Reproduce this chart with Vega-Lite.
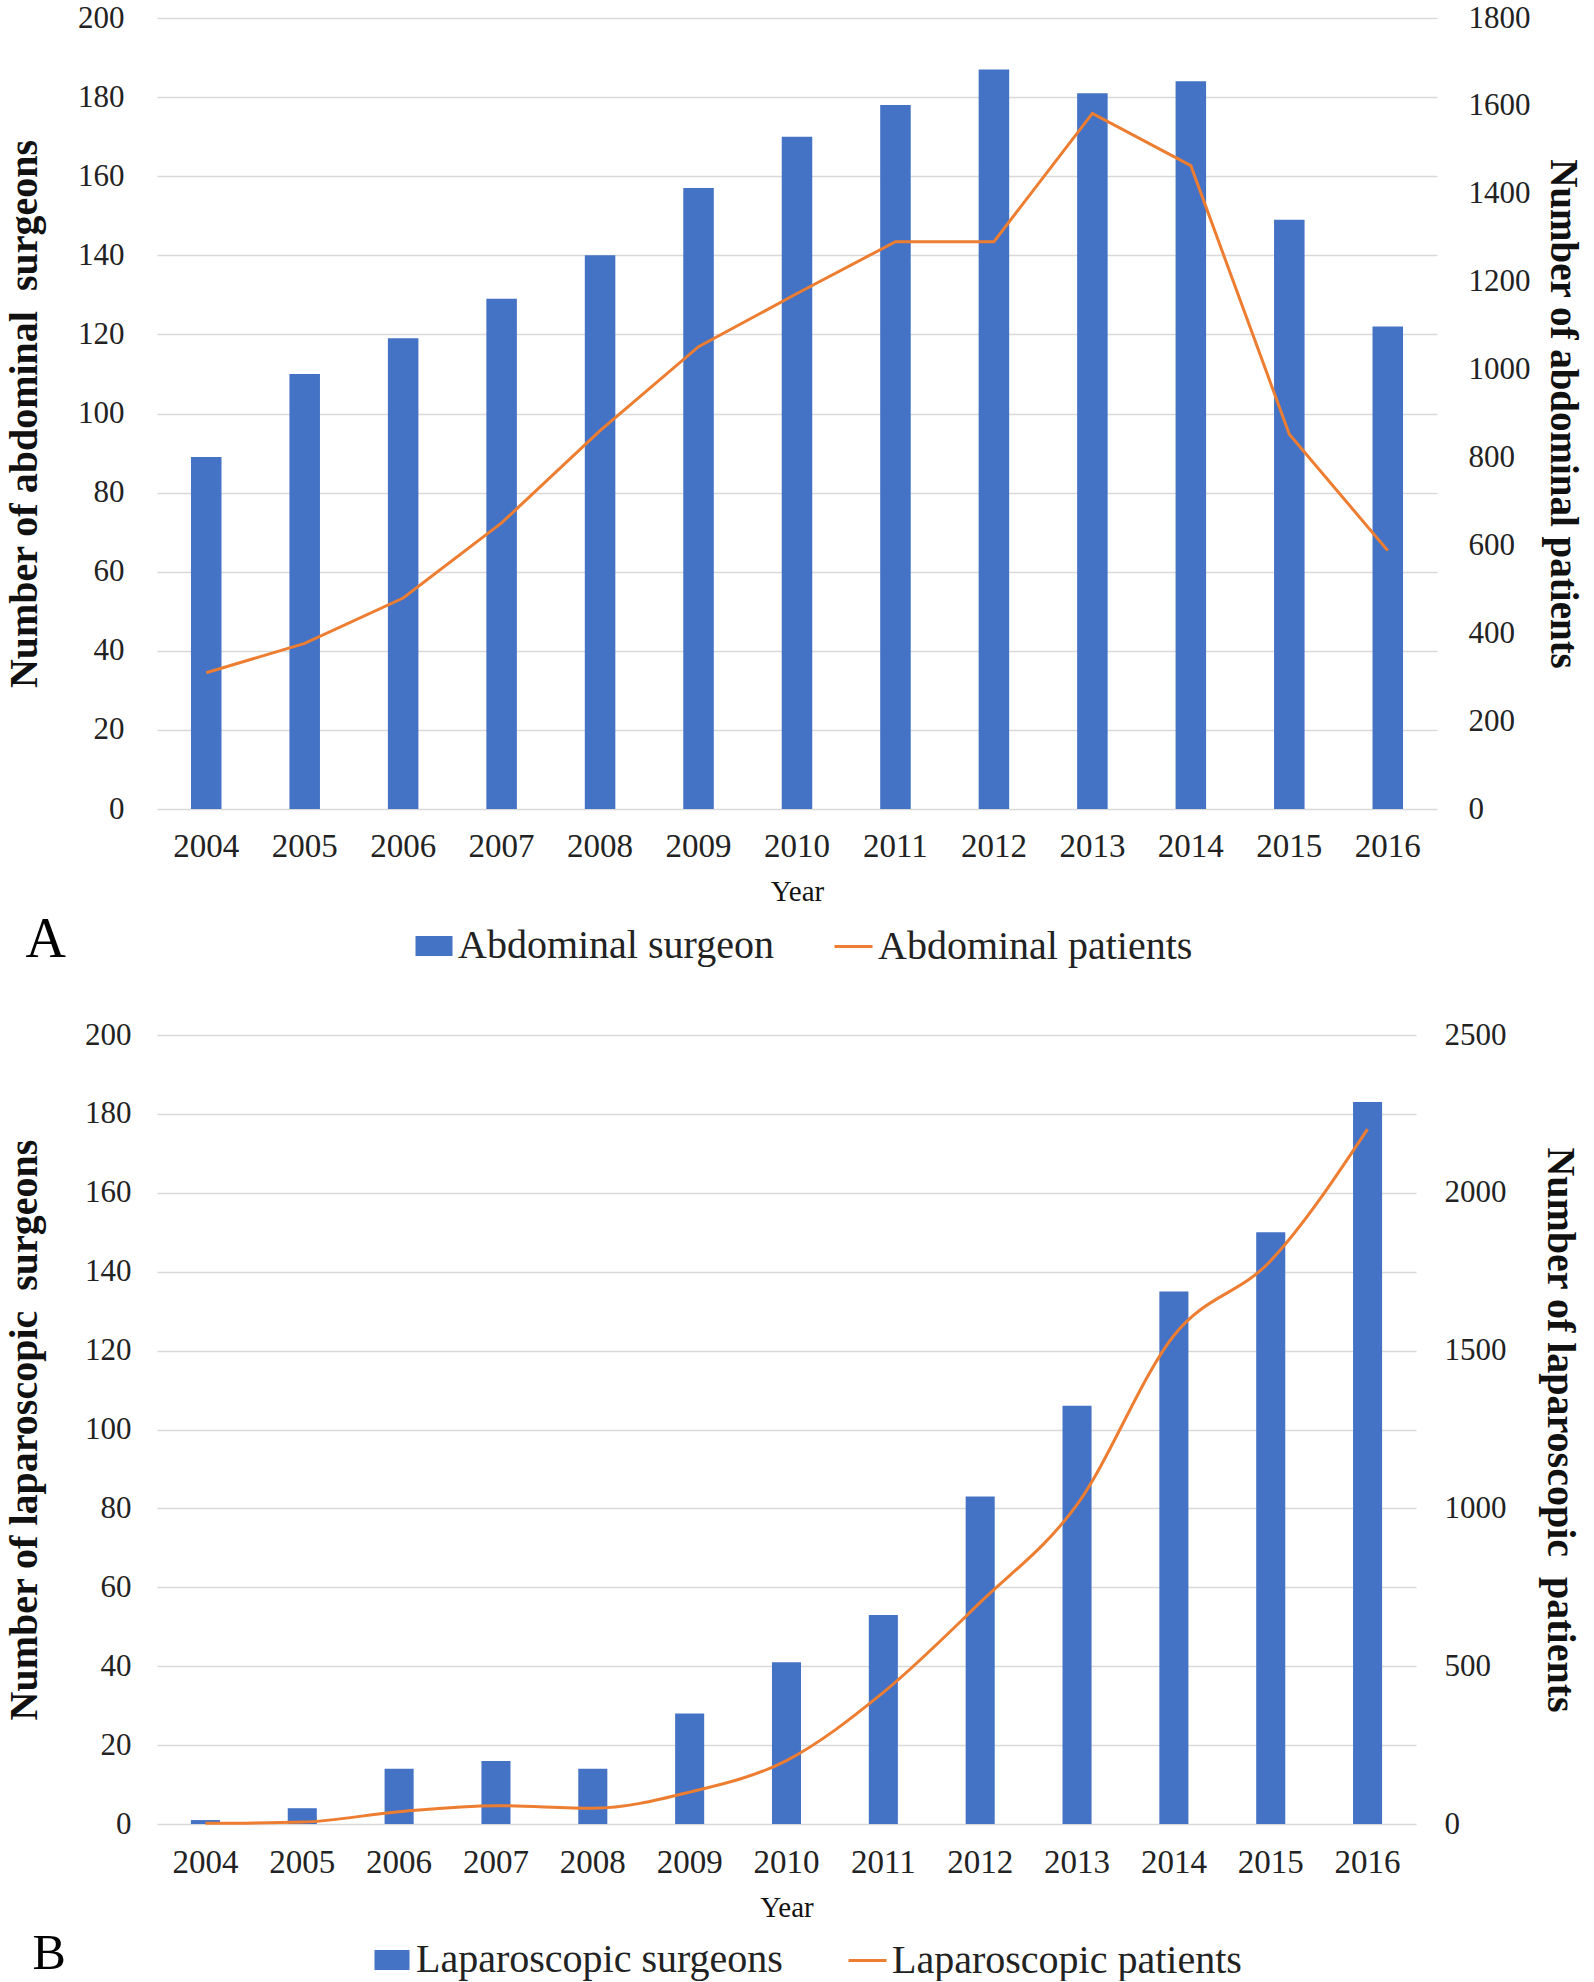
{
  "$schema": "https://vega.github.io/schema/vega-lite/v6.json",
  "padding": {"left": 4, "top": 2, "right": 10, "bottom": 0},
  "background": "white",
  "columns": 1,
  "align": "none",
  "spacing": 51,
  "config": {
    "font": "Liberation Serif",
    "view": {"stroke": null},
    "axis": {"labelFont": "Liberation Serif", "titleFont": "Liberation Serif", "labelColor": "#222222", "titleColor": "#111111", "ticks": false, "domain": false, "gridColor": "#D9D9D9", "gridWidth": 1.6},
    "legend": {"labelFont": "Liberation Serif", "labelColor": "#222222", "labelLimit": 1000, "title": null}
  },
  "resolve": {"scale": {"color": "independent", "stroke": "independent"}, "legend": {"color": "independent", "stroke": "independent"}},
  "concat": [
    {
      "width": 1280,
      "height": 791,
      "data": {"values": [
        {"year": "2004", "surgeons": 89, "patients": 310},
        {"year": "2005", "surgeons": 110, "patients": 377},
        {"year": "2006", "surgeons": 119, "patients": 480},
        {"year": "2007", "surgeons": 129, "patients": 651},
        {"year": "2008", "surgeons": 140, "patients": 861},
        {"year": "2009", "surgeons": 157, "patients": 1052},
        {"year": "2010", "surgeons": 170, "patients": 1173},
        {"year": "2011", "surgeons": 178, "patients": 1291},
        {"year": "2012", "surgeons": 187, "patients": 1291},
        {"year": "2013", "surgeons": 181, "patients": 1583},
        {"year": "2014", "surgeons": 184, "patients": 1464},
        {"year": "2015", "surgeons": 149, "patients": 853},
        {"year": "2016", "surgeons": 122, "patients": 588}
      ]},
      "title": {"text": "A", "orient": "bottom", "anchor": "start", "frame": "bounds", "font": "Liberation Serif", "fontSize": 56, "fontWeight": "normal", "color": "#000000", "offset": -54, "dx": 21},
      "encoding": {
        "x": {"field": "year", "type": "ordinal", "scale": {"paddingInner": 0.69, "paddingOuter": 0.345},
          "axis": {"title": "Year", "labelAngle": 0, "labelFontSize": 33, "labelPadding": 21, "titleFontSize": 29, "titleFontWeight": "normal", "titlePadding": 14, "grid": false}}
      },
      "layer": [
        {
          "mark": {"type": "bar", "color": "#4472C4"},
          "encoding": {
            "y": {"field": "surgeons", "type": "quantitative", "scale": {"domain": [0, 200]},
              "axis": {"title": "Number of abdominal\u00a0 surgeons", "values": [0, 20, 40, 60, 80, 100, 120, 140, 160, 180, 200], "format": "d", "labelFontSize": 31, "labelPadding": 33, "titleFontSize": 40, "titleFontWeight": "bold", "titlePadding": 33, "grid": true}},
            "color": {"datum": "Abdominal surgeon", "scale": {"range": ["#4472C4"]},
              "legend": {"orient": "none", "legendX": 257, "legendY": 908, "symbolType": "M-1,-0.54H1V0.54H-1Z", "symbolSize": 1369, "symbolStrokeWidth": 0, "labelFontSize": 40, "labelOffset": 4}}
          }
        },
        {
          "mark": {"type": "line", "color": "#ED7D31", "strokeWidth": 3},
          "encoding": {
            "y": {"field": "patients", "type": "quantitative", "scale": {"domain": [0, 1800]},
              "axis": {"orient": "right", "title": "Number of abdominal patients", "values": [0, 200, 400, 600, 800, 1000, 1200, 1400, 1600, 1800], "format": "d", "labelFontSize": 31, "labelPadding": 31, "titleFontSize": 39, "titleFontWeight": "bold", "titlePadding": 12, "grid": false}},
            "stroke": {"datum": "Abdominal patients", "scale": {"range": ["#ED7D31"]},
              "legend": {"orient": "none", "legendX": 676, "legendY": 908, "symbolType": "stroke", "symbolSize": 1444, "symbolStrokeWidth": 3, "labelFontSize": 40, "labelOffset": 4}}
          }
        }
      ],
      "resolve": {"scale": {"y": "independent"}}
    },
    {
      "width": 1259,
      "height": 789,
      "data": {"values": [
        {"year": "2004", "surgeons": 1, "patients": 2},
        {"year": "2005", "surgeons": 4, "patients": 6},
        {"year": "2006", "surgeons": 14, "patients": 39},
        {"year": "2007", "surgeons": 16, "patients": 58},
        {"year": "2008", "surgeons": 14, "patients": 50},
        {"year": "2009", "surgeons": 28, "patients": 101},
        {"year": "2010", "surgeons": 41, "patients": 201},
        {"year": "2011", "surgeons": 53, "patients": 417},
        {"year": "2012", "surgeons": 83, "patients": 702},
        {"year": "2013", "surgeons": 106, "patients": 1012},
        {"year": "2014", "surgeons": 135, "patients": 1548},
        {"year": "2015", "surgeons": 150, "patients": 1785},
        {"year": "2016", "surgeons": 183, "patients": 2202}
      ]},
      "title": {"text": "B", "orient": "bottom", "anchor": "start", "frame": "bounds", "font": "Liberation Serif", "fontSize": 50, "fontWeight": "normal", "color": "#000000", "offset": -52, "dx": 28},
      "encoding": {
        "x": {"field": "year", "type": "ordinal", "scale": {"paddingInner": 0.7, "paddingOuter": 0.35},
          "axis": {"title": "Year", "labelAngle": 0, "labelFontSize": 33, "labelPadding": 22, "titleFontSize": 29, "titleFontWeight": "normal", "titlePadding": 14, "grid": false}}
      },
      "layer": [
        {
          "mark": {"type": "bar", "color": "#4472C4"},
          "encoding": {
            "y": {"field": "surgeons", "type": "quantitative", "scale": {"domain": [0, 200]},
              "axis": {"title": "Number of laparoscopic\u00a0 surgeons", "values": [0, 20, 40, 60, 80, 100, 120, 140, 160, 180, 200], "format": "d", "labelFontSize": 31, "labelPadding": 26, "titleFontSize": 40, "titleFontWeight": "bold", "titlePadding": 40, "grid": true}},
            "color": {"datum": "Laparoscopic surgeons", "scale": {"range": ["#4472C4"]},
              "legend": {"orient": "none", "legendX": 215, "legendY": 905, "symbolType": "M-1,-0.57H1V0.57H-1Z", "symbolSize": 1225, "symbolStrokeWidth": 0, "labelFontSize": 40, "labelOffset": 4}}
          }
        },
        {
          "mark": {"type": "line", "color": "#ED7D31", "strokeWidth": 3, "interpolate": "monotone"},
          "encoding": {
            "y": {"field": "patients", "type": "quantitative", "scale": {"domain": [0, 2500]},
              "axis": {"orient": "right", "title": "Number of laparoscopic\u00a0 patients", "values": [0, 500, 1000, 1500, 2000, 2500], "format": "d", "labelFontSize": 31, "labelPadding": 28, "titleFontSize": 40, "titleFontWeight": "bold", "titlePadding": 33, "grid": false}},
            "stroke": {"datum": "Laparoscopic patients", "scale": {"range": ["#ED7D31"]},
              "legend": {"orient": "none", "legendX": 690, "legendY": 905, "symbolType": "stroke", "symbolSize": 1444, "symbolStrokeWidth": 3, "labelFontSize": 40, "labelOffset": 4}}
          }
        }
      ],
      "resolve": {"scale": {"y": "independent"}}
    }
  ]
}
